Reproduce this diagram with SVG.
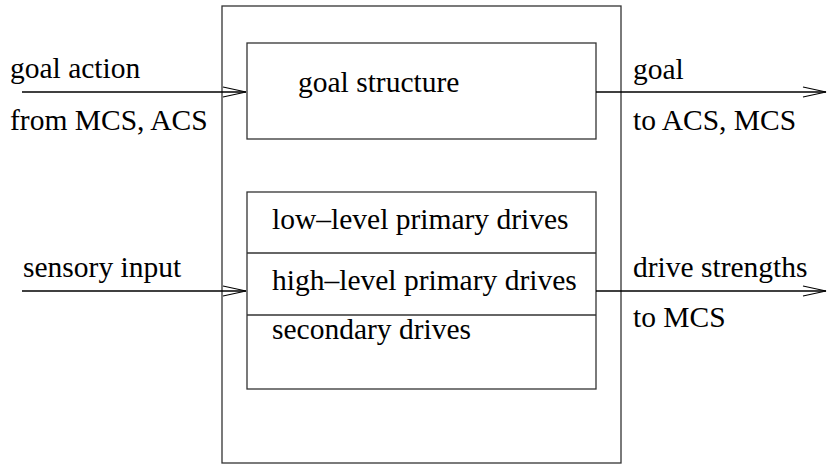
<svg xmlns="http://www.w3.org/2000/svg" width="827" height="464" viewBox="0 0 827 464">
<style>
.box{fill:none;stroke:#333;stroke-width:1.3}
.conn{fill:none;stroke:#000;stroke-width:1.3}
.ah{fill:none;stroke:#000;stroke-width:1.2}
text{font-family:"Liberation Serif","Times New Roman",serif;font-size:29.5px;fill:#000}
</style>
<rect width="827" height="464" fill="#fff"/>
<g id="outer"><rect class="box" x="222" y="6" width="399" height="457"/></g>
<g id="goal-structure">
<rect class="box" x="247" y="43" width="349" height="96"/>
<text x="298" y="92">goal structure</text>
</g>
<g id="drives">
<rect class="box" x="247" y="192" width="349" height="197"/>
<line class="box" x1="247" y1="253" x2="596" y2="253"/>
<line class="box" x1="247" y1="315" x2="596" y2="315"/>
<text x="272" y="229">low–level primary drives</text>
<text x="272" y="290">high–level primary drives</text>
<text x="272" y="339">secondary drives</text>
</g>
<g id="connectors">
<line class="conn" x1="22" y1="92" x2="246" y2="92"/>
<polyline class="ah" points="223,87 246,92 223,97"/>
<line class="conn" x1="596" y1="92" x2="826" y2="92"/>
<polyline class="ah" points="803,87 826,92 803,97"/>
<line class="conn" x1="22" y1="291" x2="246" y2="291"/>
<polyline class="ah" points="223,286 246,291 223,296"/>
<line class="conn" x1="596" y1="291" x2="826" y2="291"/>
<polyline class="ah" points="803,286 826,291 803,296"/>
</g>
<g id="labels">
<text x="10" y="78">goal action</text>
<text x="10" y="130">from MCS, ACS</text>
<text x="633" y="79">goal</text>
<text x="633" y="130">to ACS, MCS</text>
<text x="23" y="277">sensory input</text>
<text x="633" y="277">drive strengths</text>
<text x="633" y="327">to MCS</text>
</g>
</svg>
